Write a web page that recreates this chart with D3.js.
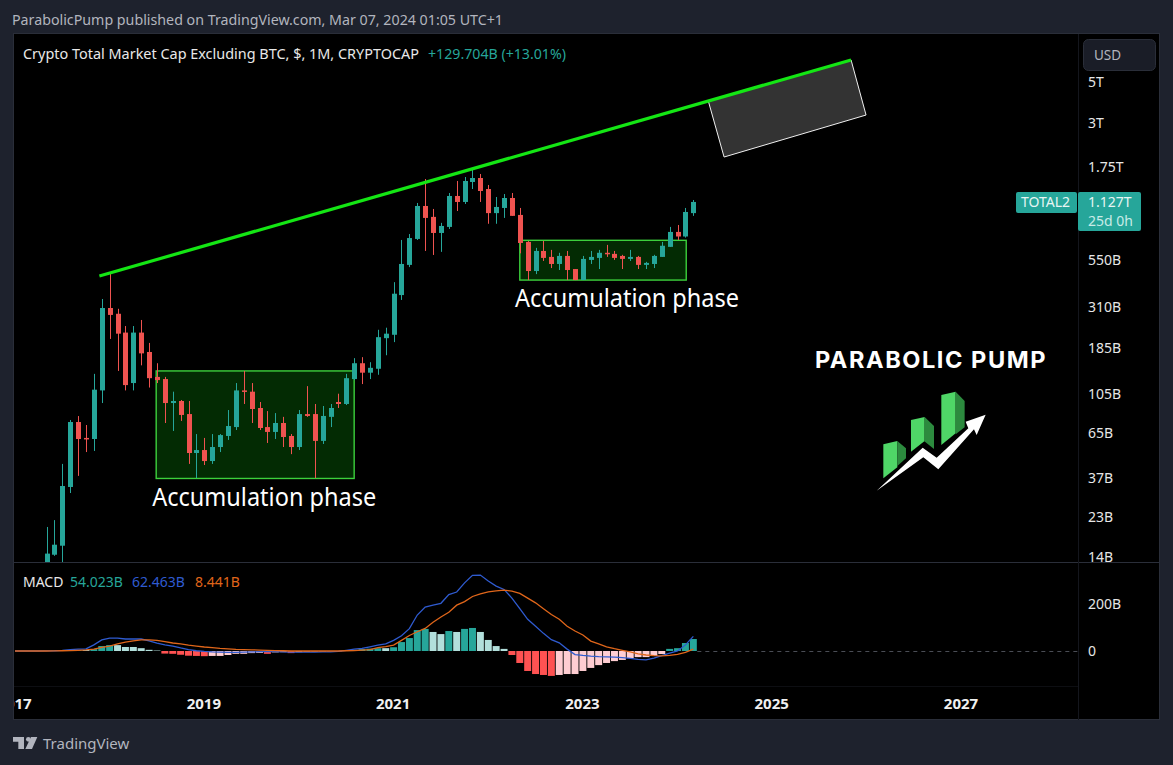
<!DOCTYPE html>
<html>
  <head>
    <title>Crypto Total Market Cap Excluding BTC</title>
    <script src="https://d3js.org/d3.v7.min.js" charset="utf-8"></script>
    <style>
      html, body { margin: 0; padding: 0; background: #1e222d; }
      svg { display: block; }
      text { font-family: "Noto Sans", sans-serif; }
    </style>
  </head>
  <body>
    <script>
      // month number since Jan 2017 of the first bar on screen (May 2017), values in billions of USD
      var firstMonth = 4;
      var opens = [11.2,14.4,16.1,33.3,74.4,61.1,60.3,110,305,284,225,120.5,225,177,130,126.6,94.1,96.5,82.1,50.7,52.6,45.9,54.6,62.6,69.9,110,108.3,88.5,69.9,65.8,73.5,62.6,54.6,82.1,82.1,58.9,79.3,95.3,93,126.6,154,137,143.8,210,219,358,520,717,1078,942,772,832,1220,1133,1451,1524,1330,987,1052,1190,965,691,482,618,574,526,581,494,431,553,567,604,596,581,560,574,520,526,574,650,782,739,987];
      var highs = [20.3,22.1,44.3,76.3,80.1,71.7,135,341,470,302,244,244,263,198,154,130,108.3,97.7,96.5,64.1,61.1,64.1,64.1,86.3,120.5,140,120.5,95.3,85.2,83.1,79.3,64.1,86.3,116,93,90.7,93,105.6,135,164,166,156,233,239,420,708,762,1119,1505,1039,875,1266,1469,1543,1684,1602,1398,1205,1250,1266,1052,699,642,699,626,604,618,494,581,618,626,666,618,589,626,581,540,589,691,832,852,1052,1161];
      var lows = [11,14.2,12.7,30.9,38.2,51.3,52,94.1,208,140,110,110,150,114,120.5,73.5,66.6,75.4,44.3,37.2,43.7,44.3,51.3,59.6,67.4,93,73.5,67.4,57.4,60.3,54.6,50,52.6,79.3,37.2,56.7,69.9,88.5,91.8,125,119,126.6,133.5,170,200,337,506,708,618,588,611,811,1013,1105,1330,1133,865,865,930,954,600,431,464,546,500,488,431,431,431,526,494,574,553,494,546,494,494,500,574,650,708,729,954];
      var closes = [14.6,16.3,33.7,74.4,60.3,60.3,111,305,280,222,117.5,225,174,128,125,94.1,96.5,81.2,50.7,52.6,45.9,54.6,63.3,70.8,110,108.3,87.4,69.1,65.8,73.5,61.8,54.6,82.1,80.2,58.9,80.2,88.5,93,128,154,137,145.5,212.6,222,364,526,725,1078,930,772,842,1220,1133,1469,1524,1298,987,1065,1190,954,682,482,618,567,526,581,488,431,560,574,604,596,567,560,574,520,533,581,659,782,739,1001,1133];

      // the MACD series run from Jan 2017, where they are still flat
      var macdFirstMonth = 0;
      var histogram = [0,0,0,0,0.5,1,2,3,4,4,8,21,25,25,17,17,12,5,2,-11,-12,-16,-20,-21,-22,-21,-21,-17,-12,-12,-9,-8,-12,-6,-5,-9,-5,-3,-2,-2,-1,-1,1,5,8,10,12,12,16,38,55,89,94,81,72,85,81,94,98,81,47,21,9,-17,-51,-85,-98,-102,-106,-102,-98,-98,-85,-72,-60,-51,-43,-38,-30,-26,-26,-21,-13,9,12,34,51];
      var macdLine = [0,0,0,0,0.5,1,3,6,8,9,26,47,55,55,51,51,51,43,34,26,21,13,6,1,-2,-4,-5,-6,-6,-5,-4,-3,-3,-3,-4,-5,-5,-5,-5,-4,-4,-2,3,8,11,18,25,30,45,65,95,153,187,195,203,240,251,290,322,323,298,276,262,225,180,135,105,75,48,35,8,-15,-19,-22,-24,-25,-26,-28,-31,-36,-38,-30,-20,-9,0,26,62];
      var signalLine = [0,0,0,0,0,0.5,1,1.5,3,5,8,15,21,30,38,43,47,47,45,40,34,30,25,21,17,14,11,9,7,6,5,4,3,2,1,0,0,0,0,0,0,0,1,2,4,6,14,19,25,45,66,82,96,122,145,165,195,210,232,243,252,256,259,255,245,225,205,180,155,135,105,85,68,42,30,18,10,3,-4,-12,-17,-20,-21,-19,-14,-6,8];

      var priceTicks = [5000,3000,1750,550,310,185,105,65,37,23,14];
      var priceLabels = ["5T","3T","1.75T","550B","310B","185B","105B","65B","37B","23B","14B"];
      var macdTicks = [200,0];
      var macdLabels = ["200B","0"];
      var yearMonths = [0,24,48,72,96,120];
      var yearLabels = ["2017","2019","2021","2023","2025","2027"];

      // drawings on the chart: [month number, billions]
      var trendLine = [[10.7,453],[106,6565]];
      var projection = [[87.9,3952],[106,6565],[107.9,3323],[89.9,1976]];
      var accumulation = [
        { from: 17.9, to: 43, top: 140, bottom: 37, labelMonth: 17.4, labelPrice: 26.2 },
        { from: 64, to: 85.1, top: 705, bottom: 431, labelMonth: 63.4, labelPrice: 309.6 }
      ];

      // logo shapes, drawn at a third of this size
      var logoBarsFront = [
        [[250,313],[292,303],[292,382],[250,415]],
        [[333,240],[374,231],[374,303],[333,335]],
        [[424,165],[467,155],[467,280],[424,315]]
      ];
      var logoBarsSide = [
        [[292,303],[318,325],[318,355],[292,378]],
        [[374,231],[402,258],[402,327],[372,303]],
        [[467,155],[494,183],[494,262],[467,283]]
      ];
      var logoArrow = [[230,452],[368,323],[410,353],[505,265],[497,245],[557,224],[530,285],[522,268],[415,388],[370,352]];

      var width = 1173;
      var height = 765;
      var bullColor = "#26a69a";
      var bearColor = "#ef5350";

      var svg = d3.select("body")
        .append("svg")
        .attr("width", width)
        .attr("height", height);

      var defs = svg.append("defs");
      defs.append("clipPath").attr("id", "mainClip").append("rect")
        .attr("x", 14).attr("y", 34).attr("width", 1064).attr("height", 528);
      defs.append("clipPath").attr("id", "macdClip").append("rect")
        .attr("x", 14).attr("y", 563).attr("width", 1064).attr("height", 123);
      defs.append("clipPath").attr("id", "timeClip").append("rect")
        .attr("x", 14).attr("y", 687).attr("width", 1064).attr("height", 33);

      // black chart area and its frame
      svg.append("rect")
        .attr("x", 13.5).attr("y", 33.5).attr("width", 1146).attr("height", 686)
        .attr("fill", "#000").attr("stroke", "#2a2e39");
      svg.append("line").attr("x1", 14).attr("x2", 1160).attr("y1", 562.5).attr("y2", 562.5)
        .attr("stroke", "#2a2e39");
      svg.append("line").attr("x1", 14).attr("x2", 1078).attr("y1", 686.5).attr("y2", 686.5)
        .attr("stroke", "#0d0e12");
      svg.append("line").attr("x1", 1078.5).attr("x2", 1078.5).attr("y1", 34).attr("y2", 720)
        .attr("stroke", "#14161d");

      var x = d3.scaleLinear().domain([0,24]).range([15,204.3]);
      var y = d3.scaleLog().domain([14,5000]).range([557,82]);
      var yMacd = d3.scaleLinear().domain([0,200]).range([651,604]);

      var candles = opens.map(function(o, i) {
        return { month: firstMonth + i, open: o, high: highs[i], low: lows[i], close: closes[i] };
      });

      var main = svg.append("g").attr("clip-path", "url(#mainClip)");

      // accumulation boxes go under the candles
      main.selectAll("rect.box")
        .data(accumulation)
        .enter()
        .append("rect")
        .attr("class", "box")
        .attr("x", function(d) { return x(d.from); })
        .attr("y", function(d) { return y(d.top); })
        .attr("width", function(d) { return x(d.to) - x(d.from); })
        .attr("height", function(d) { return y(d.bottom) - y(d.top); })
        .attr("fill", "#032b03")
        .attr("stroke", "#3cd03c")
        .attr("stroke-width", 1.4);

      main.selectAll("line.wick")
        .data(candles)
        .enter()
        .append("line")
        .attr("class", "wick")
        .attr("x1", function(d) { return Math.round(x(d.month)) + 0.5; })
        .attr("x2", function(d) { return Math.round(x(d.month)) + 0.5; })
        .attr("y1", function(d) { return y(d.high); })
        .attr("y2", function(d) { return y(d.low); })
        .attr("stroke", function(d) { return d.close >= d.open ? bullColor : bearColor; });

      main.selectAll("rect.body")
        .data(candles)
        .enter()
        .append("rect")
        .attr("class", "body")
        .attr("x", function(d) { return Math.round(x(d.month)) - 2; })
        .attr("width", 5)
        .attr("y", function(d) { return y(Math.max(d.open, d.close)); })
        .attr("height", function(d) { return Math.max(1.5, Math.abs(y(d.open) - y(d.close))); })
        .attr("fill", function(d) { return d.close >= d.open ? bullColor : bearColor; });

      // trend line and grey projection box
      var lineGen = d3.line()
        .x(function(d) { return x(d[0]); })
        .y(function(d) { return y(d[1]); });

      main.append("path")
        .attr("d", lineGen(projection) + "Z")
        .attr("fill", "#333333")
        .attr("stroke", "#f0f0f0")
        .attr("stroke-width", 1);

      main.append("path")
        .attr("d", lineGen(trendLine))
        .attr("fill", "none")
        .attr("stroke", "#14e614")
        .attr("stroke-width", 3.2);

      main.selectAll("text.phase")
        .data(accumulation)
        .enter()
        .append("text")
        .attr("class", "phase")
        .attr("x", function(d) { return x(d.labelMonth); })
        .attr("y", function(d) { return y(d.labelPrice); })
        .attr("fill", "#fff")
        .attr("font-size", 25)
        .attr("textLength", 224)
        .attr("lengthAdjust", "spacingAndGlyphs")
        .text("Accumulation phase");

      // MACD pane
      var macd = svg.append("g").attr("clip-path", "url(#macdClip)");

      macd.append("line")
        .attr("x1", x(86) + 4).attr("x2", 1078)
        .attr("y1", yMacd(0) + 0.5).attr("y2", yMacd(0) + 0.5)
        .attr("stroke", "#4a4d55")
        .attr("stroke-dasharray", "4 4");

      macd.selectAll("rect.hist")
        .data(histogram)
        .enter()
        .append("rect")
        .attr("class", "hist")
        .attr("x", function(d, i) { return x(macdFirstMonth + i) - 3.5; })
        .attr("width", 7)
        .attr("y", function(d) { return yMacd(Math.max(d, 0)); })
        .attr("height", function(d) { return Math.abs(yMacd(d) - yMacd(0)); })
        .attr("fill", function(d, i) {
          var prev = i > 0 ? histogram[i - 1] : 0;
          if (d >= 0) return d > prev ? "#26a69a" : "#b2dfdb";
          return d < prev ? "#ff5252" : "#ffcdd2";
        });

      var macdGen = d3.line()
        .x(function(d, i) { return x(macdFirstMonth + i); })
        .y(function(d) { return yMacd(d); });

      macd.append("path").attr("d", macdGen(macdLine))
        .attr("fill", "none").attr("stroke", "#2f5bd0").attr("stroke-width", 1.3);
      macd.append("path").attr("d", macdGen(signalLine))
        .attr("fill", "none").attr("stroke", "#e0661a").attr("stroke-width", 1.3);

      // axes
      function styleAxis(g, color, size, weight) {
        g.select(".domain").remove();
        g.selectAll(".tick line").remove();
        g.selectAll("text")
          .attr("fill", color)
          .style("font-family", '"Noto Sans", sans-serif')
          .style("font-size", size + "px")
          .style("font-weight", weight);
      }

      var priceAxis = svg.append("g")
        .attr("transform", "translate(1080,0)")
        .call(d3.axisRight(y)
          .tickValues(priceTicks)
          .tickFormat(function(d, i) { return priceLabels[i]; })
          .tickSize(0)
          .tickPadding(8));
      styleAxis(priceAxis, "#e6e6e6", 14, 400);

      var macdAxis = svg.append("g")
        .attr("transform", "translate(1080,0)")
        .call(d3.axisRight(yMacd)
          .tickValues(macdTicks)
          .tickFormat(function(d, i) { return macdLabels[i]; })
          .tickSize(0)
          .tickPadding(8));
      styleAxis(macdAxis, "#e6e6e6", 14, 400);

      var timeAxis = svg.append("g")
        .attr("clip-path", "url(#timeClip)")
        .append("g")
        .attr("transform", "translate(-1,694)")
        .call(d3.axisBottom(x)
          .tickValues(yearMonths)
          .tickFormat(function(d, i) { return yearLabels[i]; })
          .tickSize(0)
          .tickPadding(4));
      styleAxis(timeAxis, "#f0f0f0", 15, 700);

      // header, legends, footer
      function label(txt, px, py, color, size, weight, len) {
        var t = svg.append("text")
          .attr("x", px).attr("y", py)
          .attr("fill", color)
          .attr("font-size", size)
          .attr("font-weight", weight || 400)
          .text(txt);
        if (len) t.attr("textLength", len).attr("lengthAdjust", "spacingAndGlyphs");
        return t;
      }

      label("ParabolicPump published on TradingView.com, Mar 07, 2024 01:05 UTC+1", 12, 25, "#b2b5be", 14, 400, 491);
      label("Crypto Total Market Cap Excluding BTC, $, 1M, CRYPTOCAP", 23, 59, "#e8e8e8", 14, 400, 396);
      label("+129.704B (+13.01%)", 428, 59, "#26a69a", 14, 400, 138);
      label("MACD", 23, 587, "#e8e8e8", 14);
      label("54.023B", 70, 587, "#26a69a", 14);
      label("62.463B", 132, 587, "#2f5bd0", 14);
      label("8.441B", 195, 587, "#e0661a", 14);

      svg.append("rect")
        .attr("x", 1083.5).attr("y", 39.5).attr("width", 72).attr("height", 31).attr("rx", 5)
        .attr("fill", "#1a1d27").attr("stroke", "#2a2e39");
      label("USD", 1094, 60, "#b2b5be", 13.5);

      // last price tag
      svg.append("rect").attr("x", 1016).attr("y", 192).attr("width", 61).attr("height", 21)
        .attr("rx", 2).attr("fill", bullColor);
      svg.append("rect").attr("x", 1078).attr("y", 192).attr("width", 63).attr("height", 39)
        .attr("rx", 2).attr("fill", bullColor);
      label("TOTAL2", 1021, 207, "#e6f5f3", 14);
      label("1.127T", 1088, 207, "#e6f5f3", 14);
      label("25d 0h", 1088, 226, "#c8ebe7", 14);

      // Parabolic Pump logo
      label("PARABOLIC PUMP", 815, 368, "#fff", 23, 700, 232)
        .style("font-family", "Inter, sans-serif")
        .style("letter-spacing", "1.5px");

      var logo = svg.append("g").attr("transform", "translate(800,340) scale(0.3333)");
      var polyPoints = function(d) { return d.join(" "); };
      logo.selectAll("polygon.front").data(logoBarsFront).enter().append("polygon")
        .attr("class", "front").attr("points", polyPoints).attr("fill", "#4fd667");
      logo.selectAll("polygon.side").data(logoBarsSide).enter().append("polygon")
        .attr("class", "side").attr("points", polyPoints).attr("fill", "#2c8a3e");
      logo.append("polygon").attr("points", polyPoints(logoArrow)).attr("fill", "#fff");

      // TradingView mark and name
      var tvMark = svg.append("g").attr("transform", "translate(0,560) scale(0.3333)").attr("fill", "#b2b5be");
      tvMark.append("path").attr("d", "M39 531H72V567H55V545H39Z");
      tvMark.append("circle").attr("cx", 85).attr("cy", 538).attr("r", 7);
      tvMark.append("path").attr("d", "M93 531H112L96 567H76Z");
      label("TradingView", 43, 749, "#b2b5be", 15);
    </script>
  </body>
</html>
